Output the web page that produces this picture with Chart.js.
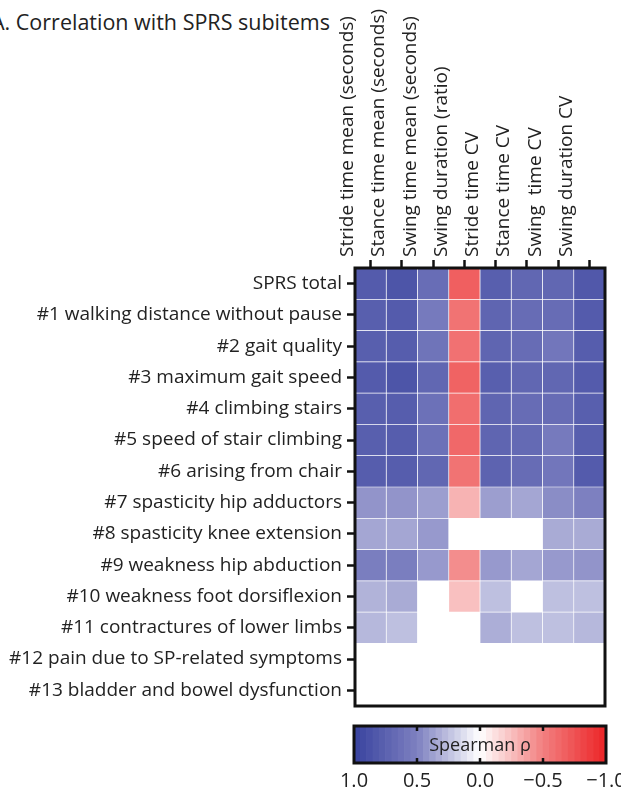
<!DOCTYPE html>
<html>
<head>
<meta charset="utf-8">
<script src="https://cdn.jsdelivr.net/npm/chart.js@4.4.1/dist/chart.umd.min.js"></script>
<style>
  html, body { margin: 0; padding: 0; background: #fff; overflow: hidden; }
  body { width: 621px; height: 789px; position: relative; font-family: 'Open Sans', sans-serif; }
  #title { position: absolute; left: -9px; top: 7px; font-size: 21.5px; color: #222; white-space: nowrap; }
  #main { position: absolute; left: 0; top: 0; }
  #cbar { position: absolute; left: 0; top: 712px; }
</style>
</head>
<body>
<div id="title">A. Correlation with SPRS subitems</div>
<canvas id="main" width="621" height="712"></canvas>
<canvas id="cbar" width="621" height="77"></canvas>
<script>
// Gait parameters (columns) and SPRS items (rows)
const GAIT_PARAMS = [
  'Stride time mean (seconds)',
  'Stance time mean (seconds)',
  'Swing time mean (seconds)',
  'Swing duration (ratio)',
  'Stride time CV',
  'Stance time CV',
  'Swing  time CV',
  'Swing duration CV',
];

const SPRS_ITEMS = [
  'SPRS total',
  '#1 walking distance without pause',
  '#2 gait quality',
  '#3 maximum gait speed',
  '#4 climbing stairs',
  '#5 speed of stair climbing',
  '#6 arising from chair',
  '#7 spasticity hip adductors',
  '#8 spasticity knee extension',
  '#9 weakness hip abduction',
  '#10 weakness foot dorsiflexion',
  '#11 contractures of lower limbs',
  '#12 pain due to SP-related symptoms',
  '#13 bladder and bowel dysfunction',
];

// Spearman rho per row (null = not significant, left blank)
const RHO = [
  [0.80, 0.85, 0.65, -0.68, 0.77, 0.70, 0.70, 0.82],
  [0.77, 0.80, 0.55, -0.57, 0.72, 0.66, 0.66, 0.80],
  [0.77, 0.78, 0.60, -0.58, 0.72, 0.66, 0.58, 0.78],
  [0.80, 0.85, 0.70, -0.66, 0.77, 0.70, 0.70, 0.80],
  [0.77, 0.78, 0.62, -0.60, 0.72, 0.66, 0.66, 0.77],
  [0.77, 0.78, 0.62, -0.63, 0.72, 0.68, 0.55, 0.77],
  [0.78, 0.78, 0.70, -0.57, 0.73, 0.66, 0.58, 0.80],
  [0.42, 0.42, 0.38, -0.30, 0.38, 0.35, 0.45, 0.50],
  [0.35, 0.35, 0.40, null, null, null, 0.33, 0.33],
  [0.52, 0.52, 0.40, -0.45, 0.40, 0.35, 0.40, 0.42],
  [0.30, 0.33, null, -0.25, 0.25, null, 0.25, 0.25],
  [0.28, 0.25, null, null, 0.32, 0.25, 0.25, 0.28],
  [null, null, null, null, null, null, null, null],
  [null, null, null, null, null, null, null, null],
];

const CBAR_TICKS = [1, 0.5, 0, -0.5, -1];
const CBAR_STEPS = 40;

const FONT = "'Open Sans', 'DejaVu Sans', sans-serif";
const TEXT = '#222';

// blue (1) -> white (0) -> red (-1)
const STOPS = [
  [-1.0, [236, 36, 38]],
  [-0.5, [242, 128, 128]],
  [0.0, [255, 255, 255]],
  [0.5, [125, 128, 192]],
  [1.0, [56, 66, 158]],
];

function rhoColor(v) {
  if (v == null) return '#ffffff';
  v = Math.max(-1, Math.min(1, v));
  for (let i = 0; i < STOPS.length - 1; i++) {
    const [a, ca] = STOPS[i];
    const [b, cb] = STOPS[i + 1];
    if (v >= a && v <= b) {
      const t = (v - a) / (b - a);
      const c = ca.map((x, k) => Math.round(x + (cb[k] - x) * t));
      return `rgb(${c[0]},${c[1]},${c[2]})`;
    }
  }
  return '#ffffff';
}

// black frame around the plot area
const frame = {
  id: 'frame',
  afterDatasetsDraw(chart) {
    const a = chart.chartArea;
    const ctx = chart.ctx;
    ctx.save();
    ctx.strokeStyle = '#111';
    ctx.lineWidth = 3;
    ctx.strokeRect(a.left, a.top, a.right - a.left, a.bottom - a.top);
    ctx.restore();
  },
};

// ── Heatmap: one stacked bar dataset per column ──
const datasets = GAIT_PARAMS.map((name, j) => ({
  label: name,
  data: SPRS_ITEMS.map(() => 1),
  backgroundColor: RHO.map(row => rhoColor(row[j])),
  borderColor: RHO.map(row => row[j] == null ? 'rgba(255,255,255,0)' : 'rgba(255,255,255,0.55)'),
  borderWidth: 0.7,
  borderSkipped: false,
  barPercentage: 1,
  categoryPercentage: 1,
}));

new Chart(document.getElementById('main'), {
  type: 'bar',
  data: { labels: SPRS_ITEMS, datasets },
  options: {
    indexAxis: 'y',
    responsive: false,
    animation: false,
    layout: { padding: { left: 0, top: 0, right: 16, bottom: 6 } },
    plugins: { legend: { display: false }, tooltip: { enabled: false } },
    scales: {
      x: { type: 'linear', stacked: true, min: 0, max: GAIT_PARAMS.length, display: false },
      x2: {
        type: 'category',
        axis: 'x',
        position: 'top',
        labels: GAIT_PARAMS,
        offset: true,
        border: { display: false },
        grid: { drawOnChartArea: false, offset: false, tickLength: 8, tickColor: '#111', tickWidth: 2.5 },
        ticks: { minRotation: 90, maxRotation: 90, autoSkip: false, padding: 3, color: TEXT, font: { family: FONT, size: 19 } },
        afterFit(s) { s.height = 268; s.paddingLeft = 0; s.paddingRight = 0; },
      },
      y: {
        stacked: true,
        offset: true,
        border: { display: false },
        grid: { drawOnChartArea: false, offset: false, tickLength: 8, tickColor: '#111', tickWidth: 2.5 },
        ticks: { autoSkip: false, padding: 5, color: TEXT, font: { family: FONT, size: 19 } },
        afterFit(s) { s.width = 355; s.paddingTop = 0; s.paddingBottom = 0; },
      },
    },
  },
  plugins: [frame],
});

// ── Colour bar ──
const bandW = 2 / CBAR_STEPS;
const cbarSets = [];
for (let i = 0; i < CBAR_STEPS; i++) {
  const lo = -1 + i * bandW;
  cbarSets.push({
    data: [[lo, lo + bandW]],
    backgroundColor: rhoColor(lo + bandW / 2),
    borderWidth: 0,
    barPercentage: 1,
    categoryPercentage: 1,
    grouped: false,
  });
}

const cbarDecor = {
  id: 'cbarDecor',
  afterDatasetsDraw(chart) {
    const a = chart.chartArea;
    const x = chart.scales.x;
    const ctx = chart.ctx;
    ctx.save();
    ctx.strokeStyle = '#111';
    ctx.lineWidth = 2.5;
    for (const v of CBAR_TICKS) {
      if (Math.abs(v) === 1) continue;
      const px = x.getPixelForValue(v);
      ctx.beginPath();
      ctx.moveTo(px, a.top); ctx.lineTo(px, a.top + 5);
      ctx.moveTo(px, a.bottom); ctx.lineTo(px, a.bottom - 5);
      ctx.stroke();
    }
    ctx.fillStyle = TEXT;
    ctx.font = '18px ' + FONT;
    ctx.textAlign = 'center';
    ctx.textBaseline = 'middle';
    ctx.fillText('Spearman \u03c1', x.getPixelForValue(0), (a.top + a.bottom) / 2 + 1);
    ctx.lineWidth = 3;
    ctx.strokeRect(a.left, a.top, a.right - a.left, a.bottom - a.top);
    ctx.restore();
  },
};

new Chart(document.getElementById('cbar'), {
  type: 'bar',
  data: { labels: ['rho'], datasets: cbarSets },
  options: {
    indexAxis: 'y',
    responsive: false,
    animation: false,
    layout: { padding: { left: 354, top: 14, right: 15, bottom: 0 } },
    plugins: { legend: { display: false }, tooltip: { enabled: false } },
    scales: {
      x: {
        type: 'linear',
        min: -1,
        max: 1,
        reverse: true,
        afterBuildTicks(s) { s.ticks = CBAR_TICKS.map(v => ({ value: v })); },
        border: { display: false },
        grid: { display: false },
        ticks: {
          padding: -2,
          color: TEXT,
          font: { family: FONT, size: 20 },
          callback: v => (v < 0 ? '\u2212' : '') + Math.abs(v).toFixed(1),
        },
        afterFit(s) { s.height = 26; s.paddingLeft = 0; s.paddingRight = 0; },
      },
      y: { display: false },
    },
  },
  plugins: [cbarDecor],
});
</script>
</body>
</html>
